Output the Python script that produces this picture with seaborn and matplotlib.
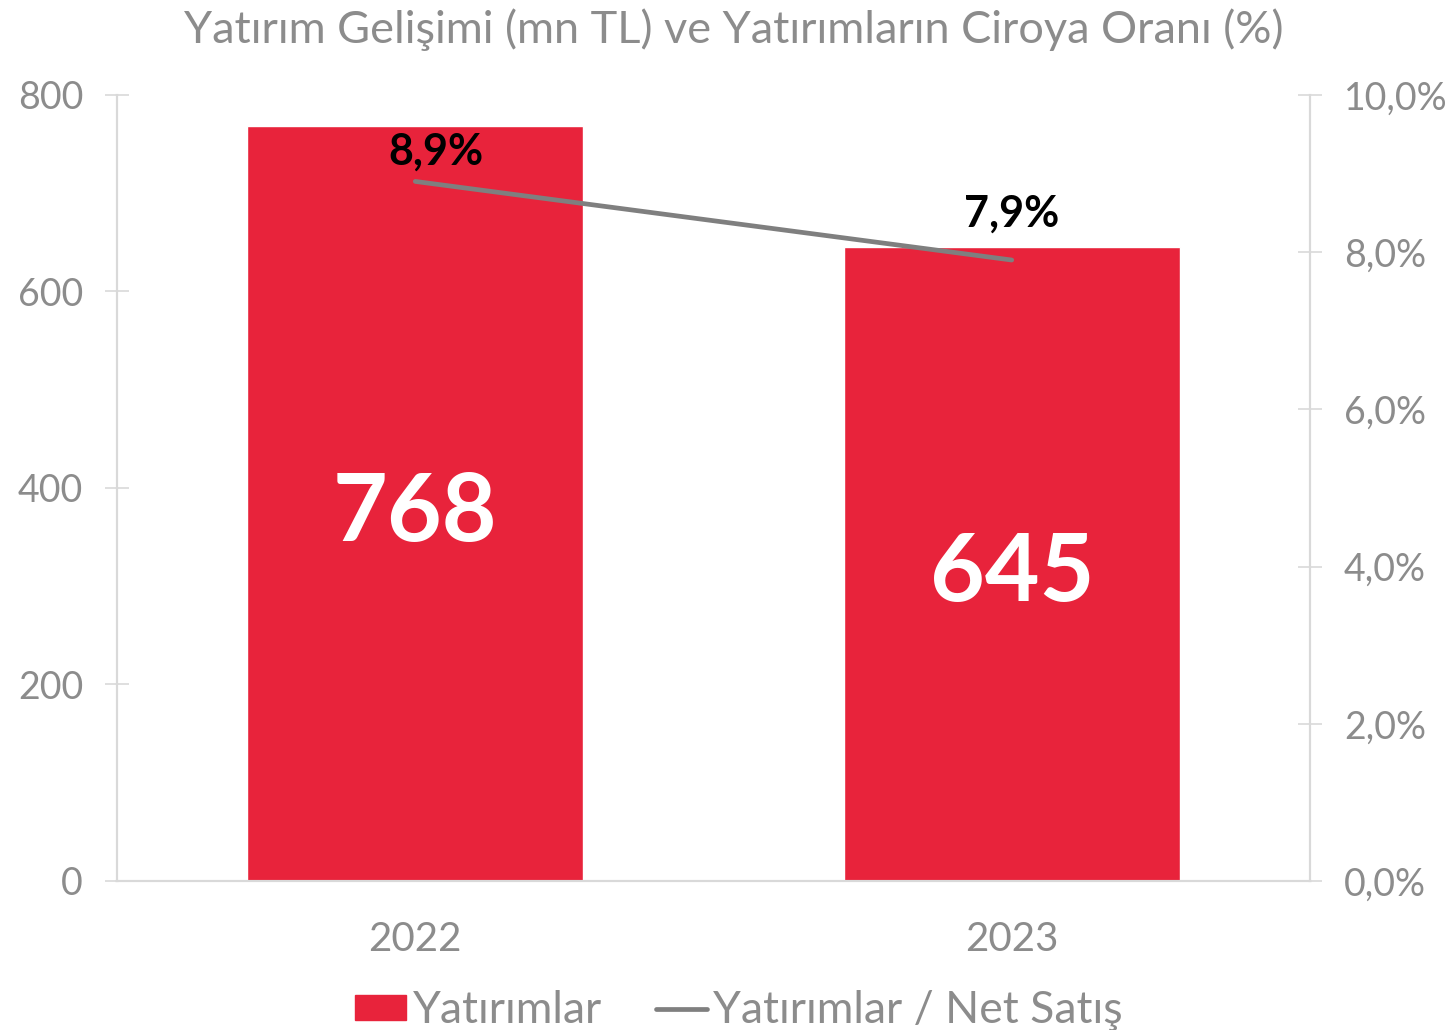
import numpy as np
import pandas as pd
import matplotlib
matplotlib.use("Agg")
import matplotlib.pyplot as plt
import seaborn as sns
from matplotlib.ticker import FuncFormatter
from matplotlib.patches import Patch
from matplotlib.lines import Line2D

# Data
years = ["2022", "2023"]
investments = [768, 645]          # mn TL
ratio = [8.9, 7.9]                # % of net sales
bar_labels = ["768", "645"]
ratio_labels = ["8,9%", "7,9%"]

red = "#E8233B"
line_gray = "#7F7F7F"
text_gray = "#8C8C8C"
spine_gray = "#D9D9D9"

sns.set_theme(style="white")
plt.rcParams['font.family'] = ['Lato', 'DejaVu Sans']

df = pd.DataFrame({"year": years, "inv": investments, "ratio": ratio})

fig = plt.figure(figsize=(14.52, 10.30), dpi=100)
ax = fig.add_axes([0.0806, 0.1447, 0.8216, 0.7631])

# Bars
sns.barplot(data=df, x="year", y="inv", color=red, width=0.563, saturation=1, ax=ax)
ax.set_xlim(-0.5, 1.5)
ax.set_ylim(0, 800)
ax.set_yticks([0, 200, 400, 600, 800])
ax.set_xlabel("")
ax.set_ylabel("")

for i, v in enumerate(investments):
    ax.text(i, v / 2 - 10, bar_labels[i], ha="center", va="center", color="white",
            fontsize=68, fontweight="bold")

# Ratio line on secondary axis
ax2 = ax.twinx()
sns.lineplot(x=np.arange(len(years)), y=ratio, color=line_gray, linewidth=3.4, ax=ax2)
ax2.set_ylim(0, 10)
ax2.set_yticks([0, 2, 4, 6, 8, 10])
ax2.yaxis.set_major_formatter(FuncFormatter(lambda v, p: f"{v:.1f}".replace(".", ",") + "%"))

offsets = [(0.035, 0.13), (0, 0.33)]
for i, r in enumerate(ratio):
    ax2.text(i + offsets[i][0], r + offsets[i][1], ratio_labels[i], ha="center",
             va="bottom", color="black", fontsize=31, fontweight="bold")

# Styling
for a in (ax, ax2):
    a.spines["top"].set_visible(False)
    for s in ("left", "right", "bottom"):
        a.spines[s].set_color(spine_gray)
        a.spines[s].set_linewidth(1.5)
    a.tick_params(axis="y", direction="inout", length=17, width=1.2, color=spine_gray,
                  labelcolor=text_gray, labelsize=27, pad=16)
ax.tick_params(axis="x", length=0, labelcolor=text_gray, labelsize=29, pad=29)

fig.text(0.505, 0.971, "Yatırım Gelişimi (mn TL) ve Yatırımların Ciroya Oranı (%)",
         color=text_gray, fontsize=32.5, ha="center", va="center")

handles = [Patch(facecolor=red, edgecolor=red),
           Line2D([0], [0], color=line_gray, linewidth=3.4)]
fig.legend(handles, ["Yatırımlar", "Yatırımlar / Net Satış"], loc="lower center",
           bbox_to_anchor=(0.509, -0.04), ncol=2, frameon=False, fontsize=32,
           labelcolor=text_gray, handlelength=1.15, handleheight=0.5,
           columnspacing=1.2, handletextpad=0.15)

fig.savefig("out.png", dpi=100)
